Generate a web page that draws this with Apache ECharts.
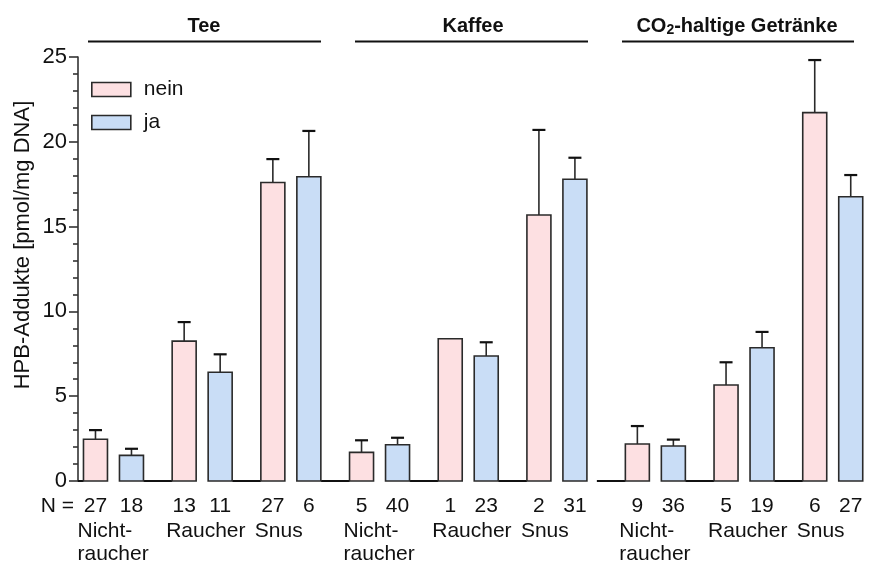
<!DOCTYPE html>
<html>
<head>
<meta charset="utf-8">
<script src="https://cdn.jsdelivr.net/npm/echarts@6/dist/echarts.min.js"></script>
<style>
html,body{margin:0;padding:0;background:#fff;}
#chart{width:871px;height:566px;}
</style>
</head>
<body>
<div id="chart"></div>
<script>
// ---- data ----
const groupNames = ['Tee', 'Kaffee', 'CO2-haltige Getränke'];
const categories = ['Nicht-\nraucher', 'Raucher', 'Snus', 'Nicht-\nraucher', 'Raucher', 'Snus', 'Nicht-\nraucher', 'Raucher', 'Snus'];
const groupOf = [0, 0, 0, 1, 1, 1, 2, 2, 2];
const neinMean = [2.46, 8.25, 17.6, 1.69, 8.39, 15.68, 2.18, 5.66, 21.72];
const neinErr = [0.54, 1.12, 1.38, 0.71, null, 5.02, 1.06, 1.34, 3.1];
const neinN = [27, 13, 27, 5, 1, 2, 9, 5, 6];
const jaMean = [1.51, 6.41, 17.94, 2.14, 7.37, 17.79, 2.06, 7.86, 16.76];
const jaErr = [0.39, 1.06, 2.7, 0.41, 0.81, 1.27, 0.38, 0.93, 1.28];
const jaN = [18, 11, 6, 40, 23, 31, 36, 19, 27];
const yTicks = [0, 5, 10, 15, 20, 25];

// ---- layout helpers ----
const PINK = '#fde0e2', BLUE = '#c9ddf6', EDGE = '#2a2a2a';
const FONT = 'Liberation Sans';
const groupExtra = [0, 0, 0.11];
const slots = categories.map((c, i) => i + groupExtra[groupOf[i]]);

function barData(mean, err, n) {
  return slots.map((s, i) => [s, mean[i], err[i] == null ? '-' : err[i], n[i]]);
}

function makeBarRender(dx, fill) {
  return function (params, api) {
    const slot = api.value(0), v = api.value(1), e = api.value(2), n = api.value(3);
    const base = api.coord([slot, 0]);
    const top = api.coord([slot, v]);
    const cx = base[0] + dx;
    const children = [];
    if (e !== '-' && !isNaN(e)) {
      const p = api.coord([slot, v + e]);
      children.push({type: 'line', shape: {x1: cx, y1: top[1], x2: cx, y2: p[1]}, style: {stroke: EDGE, lineWidth: 1.6}});
      children.push({type: 'line', shape: {x1: cx - 6.5, y1: p[1], x2: cx + 6.5, y2: p[1]}, style: {stroke: '#111', lineWidth: 2.2}});
    }
    children.push({type: 'rect', shape: {x: cx - 12, y: top[1], width: 24, height: base[1] - top[1]},
      style: {fill: fill, stroke: EDGE, lineWidth: 1.6}});
    children.push({type: 'text', style: {x: cx, y: base[1] + 25, text: String(n), align: 'center', verticalAlign: 'middle',
      fill: '#111', font: '21px "' + FONT + '"'}});
    return {type: 'group', children: children};
  };
}

const chart = echarts.init(document.getElementById('chart'), null, {renderer: 'canvas'});

const option = {
  animation: false,
  backgroundColor: '#fff',
  grid: {left: 78, right: 9, top: 57, bottom: 85},
  xAxis: {type: 'value', min: -0.4, max: 8.44, show: false},
  yAxis: {
    type: 'value', min: yTicks[0], max: yTicks[yTicks.length - 1], interval: 5,
    axisLine: {show: true, onZero: false, lineStyle: {color: '#333', width: 1.6}},
    axisTick: {show: true, length: 9, lineStyle: {color: '#333', width: 1.6}},
    minorTick: {show: true, splitNumber: 5, length: 5, lineStyle: {color: '#333', width: 1.6}},
    splitLine: {show: false},
    axisLabel: {fontSize: 22, color: '#111', margin: 11, fontFamily: FONT}
  },
  legend: {
    orient: 'vertical', left: 91, top: 79, padding: 0, itemWidth: 39, itemHeight: 14, itemGap: 12, icon: 'rect',
    textStyle: {fontSize: 21, color: '#111', fontFamily: FONT, padding: [0, 0, 0, 8]},
    data: [
      {name: 'nein', itemStyle: {color: PINK, borderColor: EDGE, borderWidth: 1.6}},
      {name: 'ja', itemStyle: {color: BLUE, borderColor: EDGE, borderWidth: 1.6}}
    ]
  },
  series: [
    {
      type: 'custom', name: 'base', clip: false, silent: true,
      data: slots.map((s, i) => [s, i]),
      renderItem: function (params, api) {
        const slot = api.value(0), i = api.value(1);
        const base = api.coord([slot, 0]);
        const left = base[0] - 30;
        const x0 = Math.max(params.coordSys.x, left - 28.5);
        const children = [
          {type: 'line', shape: {x1: x0, y1: base[1], x2: left, y2: base[1]}, style: {stroke: '#111', lineWidth: 2}},
          {type: 'text', style: {x: base[0] - 36, y: base[1] + 39, text: categories[i], align: 'left', verticalAlign: 'top',
            lineHeight: 23, fill: '#111', font: '21px "' + FONT + '"'}}
        ];
        if (i === 0) {
          children.push({type: 'text', style: {x: params.coordSys.x - 4, y: base[1] + 25, text: 'N =', align: 'right',
            verticalAlign: 'middle', fill: '#111', font: '21px "' + FONT + '"'}});
        }
        return {type: 'group', children: children};
      }
    },
    {
      type: 'custom', name: 'nein', clip: false,
      itemStyle: {color: PINK, borderColor: EDGE, borderWidth: 1.6},
      data: barData(neinMean, neinErr, neinN),
      renderItem: makeBarRender(-18, PINK)
    },
    {
      type: 'custom', name: 'ja', clip: false,
      itemStyle: {color: BLUE, borderColor: EDGE, borderWidth: 1.6},
      data: barData(jaMean, jaErr, jaN),
      renderItem: makeBarRender(18, BLUE)
    }
  ],
  graphic: [
    {type: 'text', x: 23, y: 245, rotation: Math.PI / 2,
      style: {x: 0, y: 0, text: 'HPB-Addukte [pmol/mg DNA]', align: 'center', verticalAlign: 'middle',
      fill: '#111', font: '22px "' + FONT + '"'}},
    {type: 'text', style: {x: 204, y: 26, text: groupNames[0], align: 'center', verticalAlign: 'middle', fill: '#111', font: 'bold 20px "' + FONT + '"'}},
    {type: 'line', shape: {x1: 88, y1: 41.5, x2: 321, y2: 41.5}, style: {stroke: '#111', lineWidth: 2.2}},
    {type: 'text', style: {x: 473, y: 26, text: groupNames[1], align: 'center', verticalAlign: 'middle', fill: '#111', font: 'bold 20px "' + FONT + '"'}},
    {type: 'line', shape: {x1: 355, y1: 41.5, x2: 588, y2: 41.5}, style: {stroke: '#111', lineWidth: 2.2}},
    {type: 'text', style: {x: 737, y: 26, text: '{a|CO}{s|2}{a|-haltige Getränke}', align: 'center', verticalAlign: 'middle',
      rich: {a: {fontSize: 20, fontWeight: 'bold', fontFamily: FONT, fill: '#111'},
             s: {fontSize: 14, fontWeight: 'bold', fontFamily: FONT, fill: '#111', padding: [8, 0, 0, 0]}}}},
    {type: 'line', shape: {x1: 622, y1: 41.5, x2: 854, y2: 41.5}, style: {stroke: '#111', lineWidth: 2.2}}
  ]
};
chart.setOption(option);
</script>
</body>
</html>
